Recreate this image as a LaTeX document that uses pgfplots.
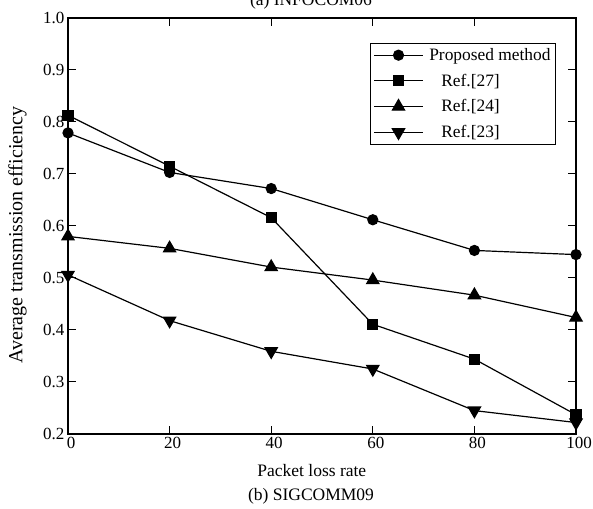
\documentclass[border=0pt]{standalone}
\usepackage{pgfplots}
\pgfplotsset{compat=1.18}
\usepackage{fontspec}
\setmainfont{Liberation Serif}
\begin{document}
\begin{tikzpicture}
\begin{axis}[
  scale only axis,
  width=508pt, height=416pt,
  xmin=0, xmax=100, ymin=0.2, ymax=1.0,
  xtick={0,20,40,60,80,100},
  ytick={0.2,0.3,0.4,0.5,0.6,0.7,0.8,0.9,1.0},
  tick align=inside,
  major tick length=8pt,
  tick style={black, line width=1pt},
  axis line style={line width=1.2pt},
  /pgf/number format/assume math mode=true,
  yticklabel style={/pgf/number format/fixed,/pgf/number format/precision=1,/pgf/number format/fixed zerofill},
  ticklabel style={font=\fontsize{17}{20}\selectfont},
  xticklabel style={xshift=3pt},
  xlabel={Packet loss rate},
  ylabel={Average transmission efficiency},
  xlabel style={font=\fontsize{17.5}{20}\selectfont, at={(axis description cs:0.48,0)}, anchor=base, yshift=-43pt},
  ylabel style={font=\fontsize{20}{24}\selectfont, at={(axis description cs:-0.118,0.478)}, anchor=north, inner sep=0pt},
  legend style={at={(1,1)}, anchor=north east, xshift=-20pt, yshift=-25pt,
    font=\fontsize{17.4}{20}\selectfont, draw=black, line width=0.8pt,
    row sep=8pt, inner sep=3pt, cells={anchor=west},
    /tikz/every odd column/.append style={column sep=4pt}},
  legend image code/.code={
    \draw[mark repeat=2,mark phase=2,#1] plot coordinates {(0cm,0cm) (0.85cm,0cm) (1.7cm,0cm)};
  },
  every axis plot/.append style={black, line width=1.2pt, mark options={solid, fill=black}},
]
\addplot[mark=*, mark size=5pt] coordinates {(0,0.779) (20,0.703) (40,0.672) (60,0.612) (80,0.553) (100,0.545)};
\addlegendentry{Proposed method\hspace{3pt}}
\addplot[mark=square*, mark size=5pt] coordinates {(0,0.813) (20,0.715) (40,0.616) (60,0.411) (80,0.344) (100,0.237)};
\addlegendentry{\hspace{12pt}Ref.[27]}
\addplot[mark=triangle*, mark size=7pt] coordinates {(0,0.580) (20,0.557) (40,0.521) (60,0.496) (80,0.467) (100,0.424)};
\addlegendentry{\hspace{12pt}Ref.[24]}
\addplot[mark=triangle*, mark size=7pt, mark options={rotate=180}] coordinates {(0,0.506) (20,0.418) (40,0.359) (60,0.325) (80,0.245) (100,0.222)};
\addlegendentry{\hspace{12pt}Ref.[23]}
\end{axis}
\node[font=\fontsize{17.5}{20}\selectfont, anchor=base] at ([xshift=-11pt,yshift=-67pt]current axis.south) {(b) SIGCOMM09};
\node[font=\fontsize{17.5}{20}\selectfont, anchor=base] at ([xshift=-11pt,yshift=12pt]current axis.north) {(a) INFOCOM06};
\pgfresetboundingbox
\useasboundingbox ([xshift=-68pt,yshift=-75pt]current axis.south west) rectangle ([xshift=17pt,yshift=18pt]current axis.north east);
\end{tikzpicture}
\end{document}
